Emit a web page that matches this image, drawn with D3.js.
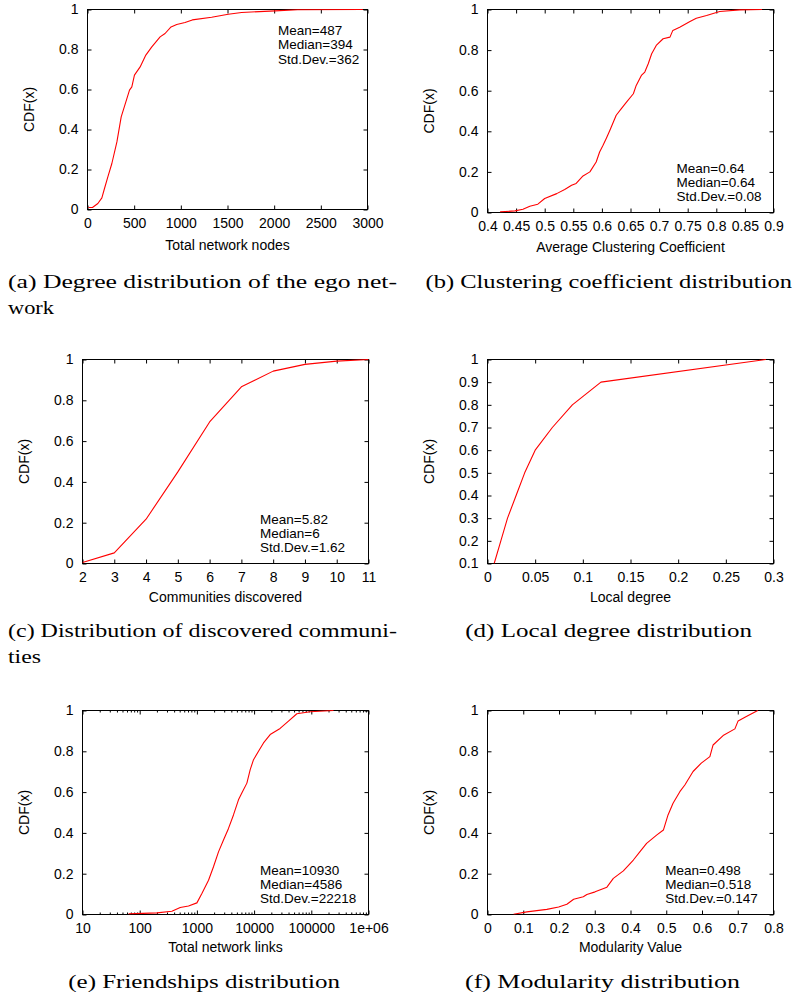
<!DOCTYPE html>
<html><head><meta charset="utf-8">
<script src="https://cdn.jsdelivr.net/npm/d3@7"></script>
<style>body{margin:0;background:#fff}svg{display:block}</style>
</head><body>
<svg id="chart" width="794" height="998"></svg>
<script>
// ---------- data ----------
const degreeNodes = [10, 53, 111, 154, 182, 218, 261, 315, 361, 411, 450, 475, 503, 564, 625, 689, 778, 831, 895, 956, 1045, 1123, 1330, 1508, 1651, 2010, 2250, 2950];
const degreeCdf   = [0.01, 0.01, 0.03, 0.058, 0.105, 0.163, 0.23, 0.338, 0.463, 0.538, 0.597, 0.613, 0.672, 0.713, 0.772, 0.813, 0.863, 0.88, 0.913, 0.925, 0.935, 0.948, 0.961, 0.976, 0.985, 0.993, 0.999, 1.0];

const clusterCoef = [0.422, 0.448, 0.462, 0.474, 0.488, 0.5, 0.521, 0.535, 0.547, 0.555, 0.567, 0.579, 0.59, 0.596, 0.602, 0.608, 0.614, 0.625, 0.634, 0.643, 0.655, 0.66, 0.669, 0.675, 0.681, 0.687, 0.695, 0.707, 0.719, 0.724, 0.736, 0.754, 0.765, 0.783, 0.806, 0.841, 0.88];
const clusterCdf  = [0.003, 0.008, 0.016, 0.031, 0.041, 0.069, 0.093, 0.113, 0.134, 0.143, 0.18, 0.2, 0.249, 0.298, 0.331, 0.367, 0.405, 0.479, 0.512, 0.544, 0.585, 0.626, 0.675, 0.692, 0.733, 0.782, 0.823, 0.856, 0.864, 0.897, 0.913, 0.941, 0.957, 0.97, 0.99, 0.998, 1.0];

const communities   = [2, 3, 4, 5, 6, 7, 8, 9, 10, 11];
const communityCdf  = [0.005, 0.052, 0.217, 0.449, 0.694, 0.866, 0.943, 0.976, 0.992, 1.0];

const localDegree   = [0.007, 0.014, 0.021, 0.03, 0.039, 0.05, 0.068, 0.089, 0.119, 0.292];
const localCdf      = [0.1, 0.2, 0.3, 0.4, 0.5, 0.6, 0.7, 0.8, 0.9, 1.0];

const networkLinks  = [64, 200, 365, 511, 713, 1000, 1222, 1597, 1950, 2385, 2917, 3567, 4360, 5330, 6100, 7480, 8550, 9770, 11940, 14600, 19100, 28500, 39900, 55900, 95500, 244000];
const linksCdf      = [0.003, 0.008, 0.016, 0.034, 0.042, 0.057, 0.103, 0.168, 0.234, 0.307, 0.365, 0.422, 0.488, 0.562, 0.595, 0.644, 0.71, 0.759, 0.8, 0.841, 0.882, 0.912, 0.948, 0.984, 0.994, 1.0];

const modularity    = [0.073, 0.11, 0.166, 0.199, 0.222, 0.241, 0.268, 0.278, 0.301, 0.334, 0.352, 0.38, 0.408, 0.426, 0.445, 0.473, 0.492, 0.505, 0.519, 0.538, 0.552, 0.575, 0.598, 0.622, 0.631, 0.659, 0.692, 0.701, 0.724, 0.756];
const modularityCdf = [0.001, 0.013, 0.025, 0.037, 0.05, 0.075, 0.087, 0.098, 0.111, 0.134, 0.177, 0.214, 0.267, 0.307, 0.349, 0.389, 0.414, 0.488, 0.545, 0.602, 0.635, 0.701, 0.742, 0.774, 0.831, 0.877, 0.91, 0.949, 0.971, 1.0];

// ---------- ticks ----------
const yTicksUnit   = [0, 0.2, 0.4, 0.6, 0.8, 1];
const yTicksLocal  = [0.1, 0.2, 0.3, 0.4, 0.5, 0.6, 0.7, 0.8, 0.9, 1];
const xTicksNodes  = [0, 500, 1000, 1500, 2000, 2500, 3000];
const xTicksCC     = [0.4, 0.45, 0.5, 0.55, 0.6, 0.65, 0.7, 0.75, 0.8, 0.85, 0.9];
const xTicksComm   = [2, 3, 4, 5, 6, 7, 8, 9, 10, 11];
const xTicksLocal  = [0, 0.05, 0.1, 0.15, 0.2, 0.25, 0.3];
const xTicksLinks  = [10, 100, 1000, 10000, 100000, 1000000];
const xTicksMod    = [0, 0.1, 0.2, 0.3, 0.4, 0.5, 0.6, 0.7, 0.8];

// ---------- texts ----------
const xTitles  = ["Total network nodes", "Average Clustering Coefficient", "Communities discovered", "Local degree", "Total network links", "Modularity Value"];
const statsA = ["Mean=487", "Median=394", "Std.Dev.=362"];
const statsB = ["Mean=0.64", "Median=0.64", "Std.Dev.=0.08"];
const statsC = ["Mean=5.82", "Median=6", "Std.Dev.=1.62"];
const statsE = ["Mean=10930", "Median=4586", "Std.Dev.=22218"];
const statsF = ["Mean=0.498", "Median=0.518", "Std.Dev.=0.147"];

const fmt = v => v === 1000000 ? "1e+06" : String(v);

const panels = [
  { xs: degreeNodes, ys: degreeCdf, xDom: [0, 3000], yDom: [0, 1], xTicks: xTicksNodes, yTicks: yTicksUnit,
    f: {l: 87.5, r: 367.5, t: 9.5, b: 209.5}, title: xTitles[0], titleY: 250,
    stats: statsA, statsX: 278, statsY: 35,
    caps: [{t: "(a) Degree distribution of the ego net-", x: 8, y: 288, len: 389}, {t: "work", x: 8, y: 314, len: 46}] },
  { xs: clusterCoef, ys: clusterCdf, xDom: [0.4, 0.9], yDom: [0, 1], xTicks: xTicksCC, yTicks: yTicksUnit,
    f: {l: 487.5, r: 773.5, t: 9.5, b: 212.5}, title: xTitles[1], titleY: 251.5,
    stats: statsB, statsX: 676.5, statsY: 172.5,
    caps: [{t: "(b) Clustering coefficient distribution", x: 425.5, y: 288, len: 366.5}] },
  { xs: communities, ys: communityCdf, xDom: [2, 11], yDom: [0, 1], xTicks: xTicksComm, yTicks: yTicksUnit,
    f: {l: 82.5, r: 368.5, t: 359.5, b: 563.5}, title: xTitles[2], titleY: 601.5,
    stats: statsC, statsX: 260, statsY: 523.5,
    caps: [{t: "(c) Distribution of discovered communi-", x: 8, y: 637, len: 389}, {t: "ties", x: 8, y: 663, len: 33}] },
  { xs: localDegree, ys: localCdf, xDom: [0, 0.3], yDom: [0.1, 1], xTicks: xTicksLocal, yTicks: yTicksLocal,
    f: {l: 487.5, r: 773.5, t: 359.5, b: 563.5}, title: xTitles[3], titleY: 601.5,
    stats: null,
    caps: [{t: "(d) Local degree distribution", x: 465.3, y: 637, len: 286.7}] },
  { xs: networkLinks, ys: linksCdf, xDom: [10, 1000000], yDom: [0, 1], xTicks: xTicksLinks, yTicks: yTicksUnit, log: true,
    f: {l: 82.5, r: 368.5, t: 710.5, b: 914.5}, title: xTitles[4], titleY: 951.5,
    stats: statsE, statsX: 260, statsY: 874.5,
    caps: [{t: "(e) Friendships distribution", x: 68.3, y: 988, len: 271.7}] },
  { xs: modularity, ys: modularityCdf, xDom: [0, 0.8], yDom: [0, 1], xTicks: xTicksMod, yTicks: yTicksUnit,
    f: {l: 487.5, r: 773.5, t: 710.5, b: 914.5}, title: xTitles[5], titleY: 951.5,
    stats: statsF, statsX: 665.3, statsY: 874.5,
    caps: [{t: "(f) Modularity distribution", x: 465, y: 988, len: 275}] }
];

const svg = d3.select("#chart");
const SANS = "'Liberation Sans', Arial, Helvetica, sans-serif";
const SERIF = "'Liberation Serif', 'DejaVu Serif', serif";
const TICK = 4;

panels.forEach((p, i) => {
  const f = p.f;
  const x = (p.log ? d3.scaleLog() : d3.scaleLinear()).domain(p.xDom).range([f.l, f.r]);
  const y = d3.scaleLinear().domain(p.yDom).range([f.b, f.t]);
  const g = svg.append("g");

  const styleAxis = sel => {
    sel.select(".domain").remove();
    sel.selectAll(".tick line").attr("stroke", "#000").attr("stroke-width", 1);
    sel.selectAll(".tick text").attr("fill", "#000").style("font-family", SANS).style("font-size", "14px");
  };

  g.append("g").attr("transform", `translate(0,${f.b})`)
    .call(d3.axisBottom(x).tickValues(p.xTicks).tickFormat(fmt).tickSize(-TICK).tickPadding(8.5))
    .call(styleAxis);
  g.append("g").attr("transform", `translate(0,${f.t})`)
    .call(d3.axisTop(x).tickValues(p.xTicks).tickFormat(() => "").tickSize(-TICK))
    .call(styleAxis);
  if (p.log) {
    const minors = [];
    for (let d = 10; d < 1000000; d *= 10) for (let k = 2; k <= 9; k++) minors.push(d * k);
    g.append("g").attr("transform", `translate(0,${f.b})`)
      .call(d3.axisBottom(x).tickValues(minors).tickFormat(() => "").tickSize(-2))
      .call(styleAxis);
    g.append("g").attr("transform", `translate(0,${f.t})`)
      .call(d3.axisTop(x).tickValues(minors).tickFormat(() => "").tickSize(-2))
      .call(styleAxis);
  }
  g.append("g").attr("transform", `translate(${f.l},0)`)
    .call(d3.axisLeft(y).tickValues(p.yTicks).tickFormat(fmt).tickSize(-TICK).tickPadding(9))
    .call(styleAxis);
  g.append("g").attr("transform", `translate(${f.r},0)`)
    .call(d3.axisRight(y).tickValues(p.yTicks).tickFormat(() => "").tickSize(-TICK))
    .call(styleAxis);

  g.append("rect").attr("x", f.l).attr("y", f.t).attr("width", f.r - f.l).attr("height", f.b - f.t)
    .attr("fill", "none").attr("stroke", "#000").attr("stroke-width", 1);

  const cid = "clip" + i;
  svg.append("clipPath").attr("id", cid).append("rect")
    .attr("x", f.l).attr("y", f.t - 1).attr("width", f.r - f.l).attr("height", f.b - f.t + 1);
  const pts = p.xs.map((v, j) => [v, p.ys[j]]);
  g.append("path").datum(pts).attr("clip-path", `url(#${cid})`)
    .attr("fill", "none").attr("stroke", "#ff0000").attr("stroke-width", 1.1)
    .attr("stroke-linejoin", "round")
    .attr("d", d3.line().x(d => x(d[0])).y(d => y(d[1])));

  g.append("text").attr("x", (f.l + f.r) / 2).attr("y", p.titleY).attr("text-anchor", "middle")
    .style("font-family", SANS).style("font-size", "14px").text(p.title);
  g.append("text").attr("transform", `translate(${f.l - 58.5},${(f.t + f.b) / 2}) rotate(-90)`)
    .attr("text-anchor", "middle").attr("dy", "0.35em")
    .style("font-family", SANS).style("font-size", "14px").text("CDF(x)");

  if (p.stats) {
    p.stats.forEach((s, k) => {
      g.append("text").attr("x", p.statsX).attr("y", p.statsY + k * 14.3)
        .style("font-family", SANS).style("font-size", "13.5px").text(s);
    });
  }

  p.caps.forEach(c => {
    svg.append("text").attr("x", c.x).attr("y", c.y)
      .attr("textLength", c.len).attr("lengthAdjust", "spacingAndGlyphs")
      .style("font-family", SERIF).style("font-size", "19px").text(c.t);
  });
});
</script>
</body></html>
